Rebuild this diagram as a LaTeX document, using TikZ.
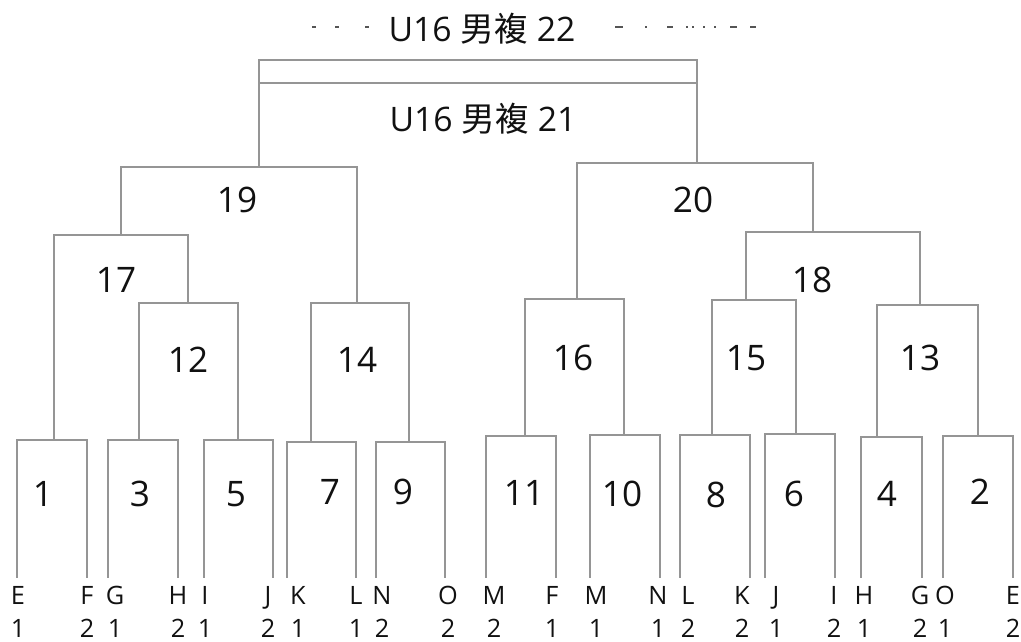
\documentclass[tikz,border=0pt]{standalone}
\usepackage{fontspec}
\setmainfont{Open Sans}
\newfontfamily\cjk{Noto Sans CJK TC}
\usepackage{xcolor}
\usepackage{tikz}
\definecolor{wire}{HTML}{959595}
\definecolor{ink}{HTML}{111111}
\definecolor{smudge}{HTML}{555555}
\tikzset{
  brk/.style={draw=wire, line width=0.9pt, line join=miter},
  num/.style={text=ink, font=\fontsize{25}{30}\selectfont, inner sep=0pt},
  ttl/.style={text=ink, font=\fontsize{24}{30}\selectfont, inner sep=0pt, anchor=base},
  slot/.style={text=ink, font=\fontsize{18}{23.4}\selectfont, align=center, inner sep=0pt, anchor=south},
  dsh/.style={draw=smudge, line width=0.9pt},
}
\begin{document}
\begin{tikzpicture}[x=0.025cm, y=-0.025cm]
  \useasboundingbox (0,0) rectangle (1021,642);
  % first round
  \foreach \m/\xa/\xb/\xs/\yt in {1/17/87/54/440, 3/108/178/139/440, 5/204/273/238/440,
      7/287/356/311/442, 9/376/445/409/442, 11/486/556/525/436, 10/590/660/624/435,
      8/680/750/712/435, 6/765/835/796/434, 4/861/922/877/437, 2/943/1013/978/436} {
    \coordinate (sa\m) at (\xa,578);
    \coordinate (sb\m) at (\xb,578);
    \coordinate (m\m) at (\xs,\yt);
    \draw[brk] (sa\m) |- (m\m) -| (sb\m);
  }
  % later rounds
  \coordinate (m12) at (188,303);
  \coordinate (m14) at (357,303);
  \coordinate (m17) at (121,235);
  \coordinate (m19) at (259,167);
  \coordinate (m16) at (577,299);
  \coordinate (m15) at (746,300);
  \coordinate (m13) at (920,305);
  \coordinate (m18) at (813,232);
  \coordinate (m20) at (697,163);
  \coordinate (m21) at (478,83);
  \coordinate (m22) at (478,60);
  \foreach \p/\a/\b in {12/3/5, 14/7/9, 17/1/12, 19/17/14, 16/11/10, 15/8/6,
      13/4/2, 18/15/13, 20/16/18, 21/19/20, 22/19/20}
    \draw[brk] (m\a) |- (m\p) -| (m\b);
  % match numbers
  \foreach \n/\x/\y in {1/43/494, 3/140/494, 5/236/494, 7/330/492, 9/403/492,
      11/524/493, 10/622/494, 8/716/495, 6/794/494, 4/887/494, 2/980/492,
      12/188/360, 14/357/360, 17/116/280, 19/237/200, 16/573/358, 15/746/358,
      13/920/358, 18/812/280, 20/693/200}
    \node[num] (n\n) at (\x,\y) {\n};
  \node[ttl] (n21) at (483,132) {U16 {\cjk 男複} 21};
  \node[ttl] (n22) at (482,42) {U16 {\cjk 男複} 22};
  % players
  \foreach \x/\t/\d [count=\i] in {18/E/1, 87/F/2, 115/G/1, 178/H/2, 205/I/1, 268/J/2,
      298/K/1, 356/L/1, 382/N/2, 448/O/2, 494/M/2, 552/F/1, 596/M/1, 658/N/1,
      688/L/2, 742/K/2, 776/J/1, 834/I/2, 864/H/1, 920/G/2, 945/O/1, 1013/E/2}
    \node[slot] (t\i) at (\x,638) {\t\\\d};
  % smudges beside the top title
  \foreach \xa/\xb in {312/316, 335/339, 365/369, 615/623, 645/646.5, 667/673,
      686/688, 692/693.5, 703/704.5, 714/715.5, 730/737, 750/756}
    \draw[dsh] (\xa,27) -- (\xb,27);
\end{tikzpicture}
\end{document}
